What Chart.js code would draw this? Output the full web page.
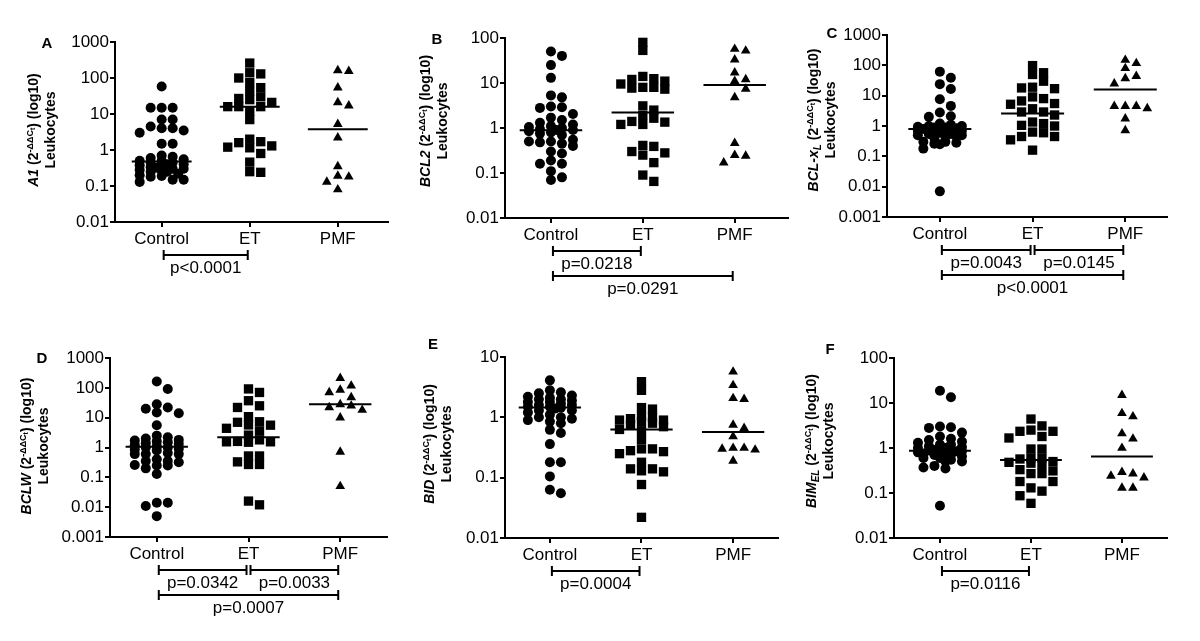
<!DOCTYPE html>
<html>
<head>
<meta charset="utf-8">
<script src="https://cdn.jsdelivr.net/npm/chart.js@4.4.1/dist/chart.umd.min.js"></script>
<style>
  body { margin: 0; background: #fff; width: 1200px; height: 641px; position: relative; overflow: hidden;
         font-family: "Liberation Sans", Arial, sans-serif; color: #000; }
  canvas { position: absolute; }
  .ylab { position: absolute; transform: translate(-50%, -50%) rotate(-90deg); white-space: nowrap;
          text-align: center; font-weight: bold; font-size: 14px; line-height: 17px; }
  .ylab sup { font-size: 9px; vertical-align: 5px; line-height: 0; }
  .ylab sub { font-size: 10px; vertical-align: -3px; line-height: 0; }
  .ylab sup sub { font-size: 7px; vertical-align: -2px; }
  .letter { position: absolute; transform: translate(-50%, -50%); font-weight: bold; font-size: 15px; }
</style>
</head>
<body>
<script>
const groups = ['Control', 'ET', 'PMF'];

// A - A1
const a1Control = [58, 15, 15, 15, 7, 7, 4.5, 4, 4, 3.5, 3, 1.5, 1.5, 0.7, 0.65, 0.6, 0.55, 0.5, 0.5, 0.45,
  0.45, 0.4, 0.4, 0.38, 0.35, 0.33, 0.32, 0.3, 0.3, 0.28, 0.27, 0.25, 0.25, 0.22, 0.2, 0.19, 0.18, 0.15, 0.15, 0.13];
const a1ET = [260, 140, 130, 100, 75, 54, 43, 30, 27, 25, 21, 16, 16, 16, 12, 7, 2, 1.7, 1.6, 1.3, 1.2, 1.15, 0.8, 0.46, 0.25, 0.24];
const a1PMF = [163, 155, 54, 21, 17, 5.2, 2.2, 0.35, 0.19, 0.18, 0.13, 0.08];
const a1Medians = [0.48, 16, 3.8];

// B - BCL2
const bcl2Control = [50, 40, 25, 13, 5.3, 4.8, 3, 2.9, 2.8, 2.05, 1.7, 1.5, 1.3, 1.2, 1.1, 1.05, 1.0, 0.95, 0.9, 0.9,
  0.85, 0.8, 0.75, 0.7, 0.55, 0.5, 0.5, 0.48, 0.45, 0.4, 0.3, 0.27, 0.19, 0.16, 0.16, 0.11, 0.08, 0.07];
const bcl2ET = [80, 53, 14, 12.5, 12, 11, 9.5, 8, 8, 7.7, 7.3, 3.1, 2.5, 1.9, 1.65, 1.4, 1.35, 1.2, 1.2, 0.41, 0.39,
  0.3, 0.28, 0.25, 0.17, 0.09, 0.065];
const bcl2PMF = [57, 52, 33, 17, 12, 11, 7.4, 4.8, 0.46, 0.25, 0.24, 0.17];
const bcl2Medians = [0.89, 2.2, 9];

// C - BCL-xL
const bclxlControl = [62, 39, 24, 16.5, 7.6, 4.6, 2.8, 2.1, 2.0, 1.2, 1.1, 1.0, 1.0, 0.95, 0.9, 0.9, 0.85, 0.85, 0.8, 0.8,
  0.75, 0.7, 0.7, 0.65, 0.6, 0.6, 0.55, 0.55, 0.5, 0.5, 0.45, 0.45, 0.4, 0.3, 0.3, 0.28, 0.26, 0.25, 0.18, 0.007];
const bclxlET = [98, 57, 50, 30, 19, 18, 17, 9.1, 8, 6.7, 5.5, 5.2, 3.7, 2.9, 2.9, 2.3, 1.35, 1.2, 1.05, 1.0, 0.63, 0.6,
  0.45, 0.45, 0.35, 0.16];
const bclxlPMF = [150, 117, 80, 44, 37, 25, 4.5, 4.5, 4.5, 3.8, 1.75, 0.72];
const bclxlMedians = [0.8, 2.6, 16];

// D - BCLW
const bclwControl = [163, 92, 28, 22, 20, 15, 14, 5.6, 2.5, 2.2, 2.0, 1.8, 1.7, 1.6, 1.5, 1.4, 1.3, 1.2, 1.1, 1.0, 1.0,
  0.9, 0.85, 0.8, 0.65, 0.6, 0.6, 0.6, 0.4, 0.35, 0.35, 0.32, 0.26, 0.25, 0.25, 0.2, 0.13, 0.014, 0.014, 0.011, 0.005];
const bclwET = [92, 70, 37, 25, 22, 10.8, 7.3, 7, 5.7, 5.6, 4.4, 3.6, 2.6, 1.8, 1.6, 1.55, 1.55, 1.5, 0.52, 0.52, 0.33,
  0.27, 0.27, 0.016, 0.012];
const bclwPMF = [212, 117, 85, 70, 48, 28, 25, 22, 18, 10, 0.71, 0.05];
const bclwMedians = [1.05, 2.2, 28];

// E - BID
const bidControl = [4.1, 2.8, 2.6, 2.5, 2.3, 2.2, 2.1, 2.0, 2.0, 1.9, 1.8, 1.8, 1.7, 1.6, 1.6, 1.5, 1.5, 1.45, 1.4,
  1.3, 1.3, 1.2, 1.1, 1.0, 1.0, 0.95, 0.9, 0.85, 0.8, 0.62, 0.55, 0.36, 0.18, 0.18, 0.105, 0.063, 0.055];
const bidET = [3.9, 2.8, 1.45, 1.37, 1.05, 1.0, 0.95, 0.9, 0.9, 0.85, 0.8, 0.75, 0.7, 0.63, 0.6, 0.43, 0.3, 0.3, 0.28,
  0.27, 0.25, 0.18, 0.14, 0.14, 0.13, 0.125, 0.077, 0.022];
const bidPMF = [5.7, 3.4, 2.07, 2.0, 0.75, 0.66, 0.48, 0.31, 0.31, 0.3, 0.29, 0.19];
const bidMedians = [1.45, 0.63, 0.57];

// F - BIM-EL
const bimControl = [18.8, 13.4, 3.0, 2.9, 2.8, 2.2, 1.8, 1.6, 1.5, 1.4, 1.3, 1.2, 1.2, 1.1, 1.05, 1.0, 1.0, 0.95, 0.9,
  0.9, 0.88, 0.85, 0.85, 0.8, 0.8, 0.75, 0.75, 0.7, 0.7, 0.65, 0.6, 0.6, 0.55, 0.5, 0.5, 0.4, 0.37, 0.35, 0.052];
const bimET = [4.4, 3.1, 2.5, 2.35, 2.35, 1.8, 1.67, 0.95, 0.95, 0.6, 0.6, 0.57, 0.5, 0.48, 0.46, 0.43, 0.33, 0.31,
  0.27, 0.27, 0.18, 0.18, 0.13, 0.11, 0.087, 0.059];
const bimPMF = [15, 5.9, 5.0, 2.1, 1.6, 1.0, 0.29, 0.27, 0.24, 0.22, 0.13, 0.13];
const bimMedians = [0.87, 0.54, 0.65];

// y tick labels (decades)
const ticksA = [0.01, 0.1, 1, 10, 100, 1000];
const ticksB = [0.01, 0.1, 1, 10, 100];
const ticksC = [0.001, 0.01, 0.1, 1, 10, 100, 1000];
const ticksD = [0.001, 0.01, 0.1, 1, 10, 100, 1000];
const ticksE = [0.01, 0.1, 1, 10];
const ticksF = [0.01, 0.1, 1, 10, 100];

// comparisons: [label, from group, to group]
const testsA = [['p<0.0001', 0, 1]];
const testsB = [['p=0.0218', 0, 1], ['p=0.0291', 0, 2]];
const testsC = [['p=0.0043', 0, 1], ['p=0.0145', 1, 2], ['p<0.0001', 0, 2]];
const testsD = [['p=0.0342', 0, 1], ['p=0.0033', 1, 2], ['p=0.0007', 0, 2]];
const testsE = [['p=0.0004', 0, 1]];
const testsF = [['p=0.0116', 0, 1]];

const SUP = ' (2<sup>-ΔΔC<sub>t</sub></sup>) (log10)<br>Leukocytes';

// layout: box = chart area [left, top, right, bottom] in page pixels
const panels = [
  { letter: 'A', gene: '<i>A1</i>', series: [a1Control, a1ET, a1PMF], medians: a1Medians, ticks: ticksA, tests: testsA,
    box: [115, 42, 388, 222], xRange: [-0.53, 2.57], labelPos: [42, 130], letterPos: [47, 42] },
  { letter: 'B', gene: '<i>BCL2</i>', series: [bcl2Control, bcl2ET, bcl2PMF], medians: bcl2Medians, ticks: ticksB, tests: testsB,
    box: [505, 38, 788, 218], xRange: [-0.5, 2.58], labelPos: [434, 121], letterPos: [437, 38] },
  { letter: 'C', gene: '<i>BCL-x<sub>L</sub></i>', series: [bclxlControl, bclxlET, bclxlPMF], medians: bclxlMedians, ticks: ticksC, tests: testsC,
    box: [887, 35, 1167, 217], xRange: [-0.57, 2.45], labelPos: [822, 120], letterPos: [832, 32] },
  { letter: 'D', gene: '<i>BCLW</i>', series: [bclwControl, bclwET, bclwPMF], medians: bclwMedians, ticks: ticksD, tests: testsD,
    box: [110, 358, 387, 537], xRange: [-0.51, 2.51], labelPos: [35, 446], letterPos: [42, 357] },
  { letter: 'E', gene: '<i>BID</i>', series: [bidControl, bidET, bidPMF], medians: bidMedians, ticks: ticksE, tests: testsE,
    box: [505, 357, 778, 538], xRange: [-0.49, 2.49], labelPos: [438, 444], letterPos: [433, 343] },
  { letter: 'F', gene: '<i>BIM<sub>EL</sub></i>', series: [bimControl, bimET, bimPMF], medians: bimMedians, ticks: ticksF, tests: testsF,
    box: [894, 358, 1167, 538], xRange: [-0.505, 2.495], labelPos: [820, 441], letterPos: [830, 348] }
];

Chart.defaults.font.family = '"Liberation Sans", Arial, sans-serif';
Chart.defaults.color = '#000';

const shapes = ['circle', 'rect', 'triangle'];
const radii = [5, 6.6, 5.6];
const STEP = 11;   // horizontal spacing of neighbours, px
const VGAP = 8;    // vertical distance at which points may share a column, px
const MAXOFF = 22; // widest sideways spread, px

// significance brackets under the x axis
const bracketPlugin = {
  id: 'brackets',
  afterDraw(chart, args, opts) {
    const { ctx, chartArea } = chart;
    const x = chart.scales.x;
    const rows = [];
    ctx.save();
    ctx.strokeStyle = '#000';
    ctx.fillStyle = '#000';
    ctx.lineWidth = 2;
    ctx.font = '17px "Liberation Sans", Arial, sans-serif';
    ctx.textAlign = 'center';
    ctx.textBaseline = 'middle';
    opts.tests.forEach(([label, from, to]) => {
      let row = 0;
      while ((rows[row] || []).some(([a, b]) => from < b && to > a)) row++;
      (rows[row] = rows[row] || []).push([from, to]);
      const y = chartArea.bottom + 33 + row * 25;
      const x1 = x.getPixelForValue(from) + 2;
      const x2 = x.getPixelForValue(to) - 2;
      ctx.beginPath();
      ctx.moveTo(x1, y); ctx.lineTo(x2, y);
      ctx.moveTo(x1, y - 5); ctx.lineTo(x1, y + 5);
      ctx.moveTo(x2, y - 5); ctx.lineTo(x2, y + 5);
      ctx.stroke();
      ctx.fillText(label, (x1 + x2) / 2, y + 13);
    });
    ctx.restore();
  }
};

// spread the points of one group sideways like a dot plot
function swarm(chart, center, values) {
  const xs = chart.scales.x, ys = chart.scales.y;
  const cx = xs.getPixelForValue(center);
  const cands = [];
  for (let k = 0; Math.ceil(k / 2) * STEP / 2 <= MAXOFF; k++) {
    cands.push((k % 2 ? 1 : -1) * Math.ceil(k / 2) * STEP / 2);
  }
  const placed = [];
  values.map(v => ({ v, py: ys.getPixelForValue(v) }))
    .sort((a, b) => a.py - b.py)
    .forEach(p => {
      let best = null, bestScore = -1;
      for (const off of cands) {
        // how close is the nearest already placed point (1 = just touching)
        let score = Infinity;
        placed.forEach(q => {
          const d = Math.max(Math.abs(q.off - off) / STEP, Math.abs(q.py - p.py) / VGAP);
          score = Math.min(score, d);
        });
        if (score >= 1) { best = off; break; }
        if (score > bestScore) { bestScore = score; best = off; }
      }
      placed.push({ off: best, py: p.py, v: p.v });
    });
  return placed.map(p => ({ x: xs.getValueForPixel(cx + p.off), y: p.v }));
}

function makePanel(p) {
  const [l, t, r, b] = p.box;
  const padL = 65, padT = 14, padR = 14, axisH = 30, padB = 80;
  const canvas = document.createElement('canvas');
  canvas.width = r - l + padL + padR;
  canvas.height = b - t + padT + axisH + padB;
  canvas.style.left = (l - padL) + 'px';
  canvas.style.top = (t - padT) + 'px';
  document.body.appendChild(canvas);

  const lab = document.createElement('div');
  lab.className = 'ylab';
  lab.innerHTML = p.gene + SUP;
  lab.style.left = p.labelPos[0] + 'px';
  lab.style.top = p.labelPos[1] + 'px';
  document.body.appendChild(lab);

  const let_ = document.createElement('div');
  let_.className = 'letter';
  let_.textContent = p.letter;
  let_.style.left = p.letterPos[0] + 'px';
  let_.style.top = p.letterPos[1] + 'px';
  document.body.appendChild(let_);

  const pointSets = p.series.map((vals, i) => ({
    data: vals.map(v => ({ x: i, y: v })),
    pointStyle: shapes[i],
    pointRadius: radii[i],
    pointBackgroundColor: '#000',
    pointBorderColor: '#000',
    pointBorderWidth: 0,
    clip: false
  }));
  const medianSets = p.medians.map((m, i) => ({
    type: 'line',
    data: [{ x: i - 0.34, y: m }, { x: i + 0.34, y: m }],
    borderColor: '#000',
    borderWidth: 2,
    pointRadius: 0,
    showLine: true,
    fill: false
  }));

  const chart = new Chart(canvas, {
    type: 'scatter',
    data: { datasets: pointSets.concat(medianSets) },
    options: {
      responsive: false,
      animation: false,
      layout: { padding: { top: padT, right: padR, bottom: padB, left: 0 } },
      plugins: {
        legend: { display: false },
        tooltip: { enabled: false },
        brackets: { tests: p.tests }
      },
      scales: {
        x: {
          type: 'linear',
          min: p.xRange[0],
          max: p.xRange[1],
          afterBuildTicks: s => { s.ticks = [0, 1, 2].map(v => ({ value: v })); },
          afterFit: s => { s.height = axisH; },
          ticks: { callback: v => groups[v], font: { size: 17 }, padding: 2, autoSkip: false, maxRotation: 0 },
          grid: { drawOnChartArea: false, color: '#000', lineWidth: 2, tickLength: 5 },
          border: { color: '#000', width: 2 }
        },
        y: {
          type: 'logarithmic',
          min: p.ticks[0],
          max: p.ticks[p.ticks.length - 1],
          afterBuildTicks: s => { s.ticks = p.ticks.map(v => ({ value: v })); },
          afterFit: s => { s.width = padL; },
          ticks: { callback: v => String(v), font: { size: 17 }, padding: 1 },
          grid: { drawOnChartArea: false, color: '#000', lineWidth: 2, tickLength: 5 },
          border: { color: '#000', width: 2 }
        }
      }
    },
    plugins: [bracketPlugin]
  });

  p.series.forEach((vals, i) => { chart.data.datasets[i].data = swarm(chart, i, vals); });
  chart.update('none');
}

panels.forEach(makePanel);
</script>
</body>
</html>
